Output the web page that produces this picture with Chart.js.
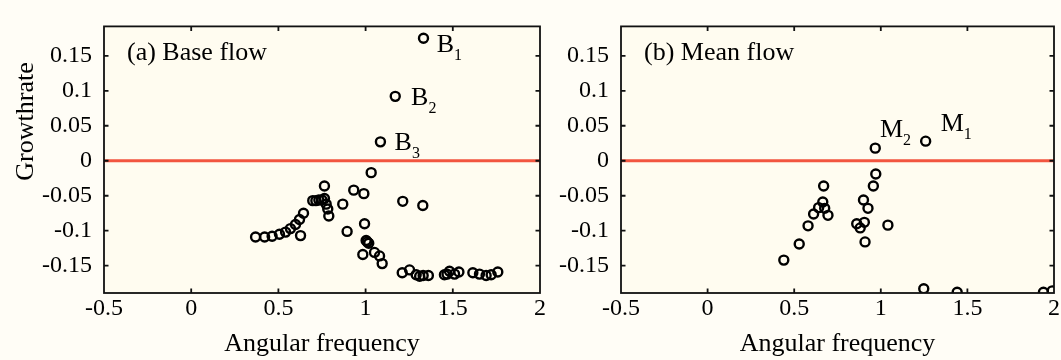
<!DOCTYPE html>
<html><head><meta charset="utf-8">
<script src="https://cdn.jsdelivr.net/npm/chart.js@4.4.0/dist/chart.umd.min.js"></script>
<style>
html,body{margin:0;padding:0;background:#fffdf6;}
#wrap{position:relative;width:1061px;height:360px;overflow:hidden;}
.box{position:absolute;top:0;height:360px;}
#boxA{left:0;width:548px;}
#boxB{left:517px;width:544px;}
</style></head><body>
<div id="wrap"><div class="box" id="boxA"><canvas id="cA"></canvas></div><div class="box" id="boxB"><canvas id="cB"></canvas></div></div>
<script>
const xTicks = [-0.5, 0, 0.5, 1, 1.5, 2];
const yTicks = [-0.15, -0.1, -0.05, 0, 0.05, 0.1, 0.15];
const xRange = [-0.5, 2];
const yRange = [-0.189, 0.192];
const zeroLevel = 0;

const baseX = [0.369,0.421,0.464,0.506,0.541,0.569,0.598,0.621,0.644,0.627,0.697,0.715,0.732,0.750,0.764,0.764,0.774,0.783,0.789,0.869,0.894,0.932,0.990,0.994,1.003,1.010,1.018,0.984,1.032,1.051,1.080,1.095,1.085,1.170,1.332,1.213,1.328,1.210,1.252,1.290,1.310,1.330,1.360,1.452,1.467,1.481,1.510,1.535,1.615,1.653,1.691,1.720,1.758];
const baseY = [-0.109,-0.109,-0.108,-0.105,-0.102,-0.097,-0.091,-0.084,-0.075,-0.107,-0.057,-0.057,-0.056,-0.056,-0.054,-0.036,-0.062,-0.069,-0.079,-0.062,-0.101,-0.042,-0.047,-0.090,-0.114,-0.116,-0.118,-0.134,-0.017,-0.131,-0.136,-0.147,0.027,0.092,0.175,-0.058,-0.064,-0.160,-0.156,-0.163,-0.165,-0.164,-0.164,-0.163,-0.162,-0.158,-0.162,-0.159,-0.160,-0.162,-0.164,-0.163,-0.159];

const meanX = [0.440,0.529,0.580,0.612,0.641,0.665,0.670,0.676,0.695,0.861,0.881,0.900,0.905,0.909,0.926,0.957,0.971,0.968,1.041,1.259,1.248,1.441,1.939,1.990];
const meanY = [-0.142,-0.119,-0.093,-0.076,-0.067,-0.059,-0.036,-0.068,-0.078,-0.090,-0.096,-0.056,-0.088,-0.116,-0.068,-0.036,-0.019,0.018,-0.092,0.028,-0.183,-0.188,-0.188,-0.186];

const baseLabels = [
  {text:'B', sub:'1', x:1.408, y:0.156},
  {text:'B', sub:'2', x:1.261, y:0.080},
  {text:'B', sub:'3', x:1.166, y:0.0156}
];
const meanLabels = [
  {text:'M', sub:'2', x:0.995, y:0.0334},
  {text:'M', sub:'1', x:1.346, y:0.0424}
];
const panelTitles = ['(a) Base flow', '(b) Mean flow'];
const xTitle = 'Angular frequency';
const yTitle = 'Growthrate';

const FONT = '"Liberation Serif", "Times New Roman", serif';

function fmt(v){
  const r = Math.round(v*1000)/1000;
  return String(r);
}

function framePlugin(title, labels, showYTitle){
  return {
    id:'frame',
    beforeDraw(chart){
      const {ctx, chartArea:a} = chart;
      ctx.save();
      ctx.fillStyle = '#fffcf0';
      ctx.fillRect(a.left, a.top, a.right-a.left, a.bottom-a.top);
      ctx.restore();
    },
    afterDraw(chart){
      const {ctx, chartArea:a} = chart;
      const xs = chart.scales.x, ys = chart.scales.y;
      ctx.save();
      ctx.strokeStyle = '#111';
      ctx.lineWidth = 1.8;
      ctx.strokeRect(a.left, a.top, a.right-a.left, a.bottom-a.top);
      ctx.beginPath();
      const tl = 4.5;
      xTicks.forEach(v=>{
        const p = xs.getPixelForValue(v);
        if (p <= a.left+1 || p >= a.right-1) return;
        ctx.moveTo(p, a.bottom); ctx.lineTo(p, a.bottom-tl);
        ctx.moveTo(p, a.top); ctx.lineTo(p, a.top+tl);
      });
      yTicks.forEach(v=>{
        const p = ys.getPixelForValue(v);
        ctx.moveTo(a.left, p); ctx.lineTo(a.left+tl, p);
        ctx.moveTo(a.right, p); ctx.lineTo(a.right-tl, p);
      });
      ctx.stroke();

      ctx.fillStyle = '#000';
      ctx.textAlign = 'left';
      ctx.textBaseline = 'alphabetic';
      ctx.font = '26px ' + FONT;
      ctx.fillText(title, a.left + 23, a.top + 34);

      labels.forEach(L=>{
        const px = xs.getPixelForValue(L.x), py = ys.getPixelForValue(L.y);
        ctx.font = '26px ' + FONT;
        ctx.fillText(L.text, px, py);
        const w = ctx.measureText(L.text).width;
        ctx.font = '16px ' + FONT;
        ctx.fillText(L.sub, px + w, py + 8);
      });

      ctx.font = '26px ' + FONT;
      ctx.textAlign = 'center';
      ctx.fillText(xTitle, (a.left + a.right)/2, 351);

      if (showYTitle){
        ctx.translate(33, 121.5);
        ctx.rotate(-Math.PI/2);
        ctx.fillText(yTitle, 0, 0);
      }
      ctx.restore();
    }
  };
}

function makeChart(id, xsArr, ysArr, title, labels, showYTitle, padRight){
  const pts = xsArr.map((x,i)=>({x:x, y:ysArr[i]}));
  return new Chart(document.getElementById(id), {
    type:'scatter',
    data:{datasets:[
      {type:'scatter', data:pts, pointRadius:4.5, pointHoverRadius:4.5, pointBorderWidth:2.4,
       borderColor:'#000', backgroundColor:'rgba(0,0,0,0)', pointStyle:'circle', clip:0, order:1},
      {type:'line', data:[{x:xRange[0], y:zeroLevel},{x:xRange[1], y:zeroLevel}],
       borderColor:'#f2553f', borderWidth:3, pointRadius:0, fill:false, clip:0, order:2}
    ]},
    options:{
      responsive:true, maintainAspectRatio:false, animation:false,
      events:[],
      layout:{padding:{left:0, top:8, right:padRight, bottom:0}},
      plugins:{legend:{display:false}, tooltip:{enabled:false}},
      scales:{
        x:{type:'linear', min:xRange[0], max:xRange[1],
           afterBuildTicks(s){ s.ticks = xTicks.map(v=>({value:v})); },
           afterFit(s){ s.height = 67; },
           grid:{display:false, drawTicks:false}, border:{display:false},
           ticks:{padding:1, color:'#000', font:{family:FONT, size:24}, maxRotation:0, autoSkip:false,
                  callback:(v)=>fmt(v)}},
        y:{type:'linear', min:yRange[0], max:yRange[1],
           afterBuildTicks(s){ s.ticks = yTicks.map(v=>({value:v})); },
           afterFit(s){ s.width = 104; },
           grid:{display:false, drawTicks:false}, border:{display:false},
           ticks:{padding:12, color:'#000', font:{family:FONT, size:24}, autoSkip:false,
                  callback:(v)=>fmt(v)}}
      }
    },
    plugins:[framePlugin(title, labels, showYTitle)]
  });
}

makeChart('cA', baseX, baseY, panelTitles[0], baseLabels, true, 8);
makeChart('cB', meanX, meanY, panelTitles[1], meanLabels, false, 4);
</script>
</body></html>
